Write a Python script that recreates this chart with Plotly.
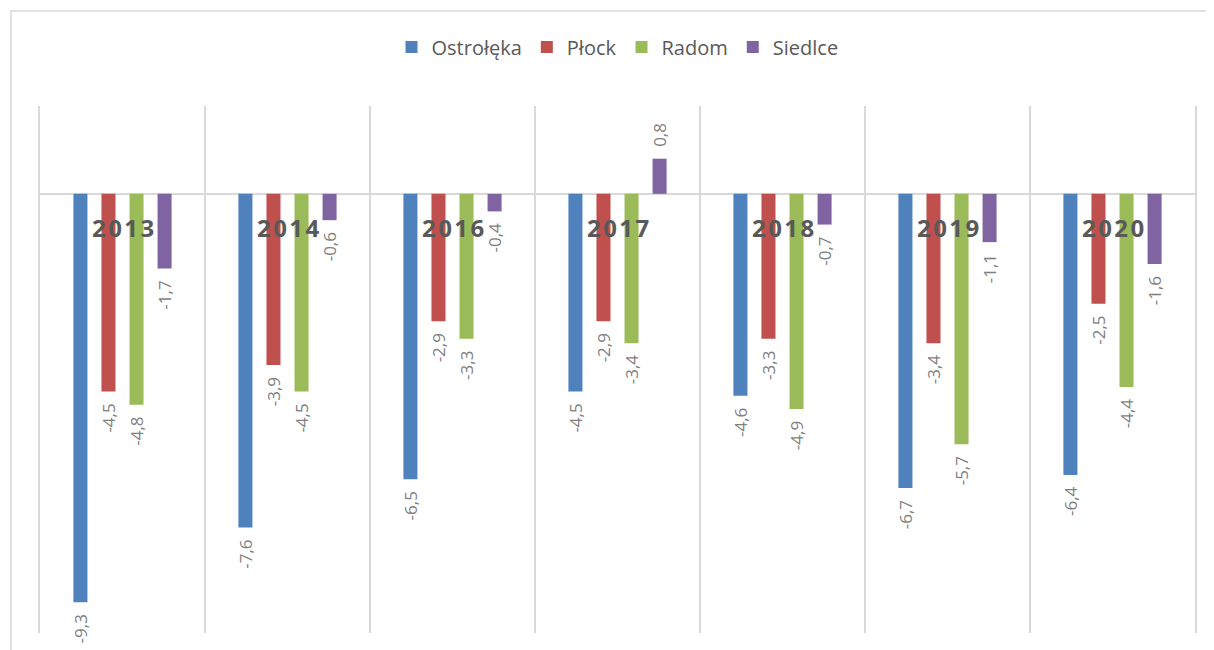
import plotly.graph_objects as go

years = ["2013", "2014", "2016", "2017", "2018", "2019", "2020"]
series_names = ["Ostrołęka", "Płock", "Radom", "Siedlce"]
ostroleka = [-9.3, -7.6, -6.5, -4.5, -4.6, -6.7, -6.4]
plock = [-4.5, -3.9, -2.9, -2.9, -3.3, -3.4, -2.5]
radom = [-4.8, -4.5, -3.3, -3.4, -4.9, -5.7, -4.4]
siedlce = [-1.7, -0.6, -0.4, 0.8, -0.7, -1.1, -1.6]
colors = ["#4F81BD", "#C0504D", "#9BBB59", "#8064A2"]

W, H = 1214, 650
OFF = 8  # page body margin offset
L, R, T, B = 40 - OFF, 19 + OFF, 106 - OFF, 17 + OFF

NB = "\u00a0\u00a0"


def fmt(v):
    s = f"{v:.1f}".replace(".", ",")
    return s + NB if v < 0 else NB + s


fig = go.Figure()
xs = list(range(len(years)))
for name, vals, col in zip(series_names, [ostroleka, plock, radom, siedlce], colors):
    fig.add_trace(go.Bar(
        x=xs, y=vals, name=name, marker=dict(color=col, line=dict(width=0)),
        text=[fmt(v) for v in vals],
        textposition="outside", textangle=-90, constraintext="none",
        cliponaxis=False,
        textfont=dict(family="Open Sans, sans-serif", size=17, color="#7F7F7F"),
        hoverinfo="skip",
    ))

for i, yr in enumerate(years):
    fig.add_annotation(x=i, y=0, xref="x", yref="y", text="<b>" + "\u200a".join(yr) + "</b>",
                       showarrow=False, yshift=-34, yanchor="middle", xanchor="center",
                       font=dict(family="Open Sans, sans-serif", size=24, color="#595959"))

pw = W - L - R
ph = H - T - B
fig.add_shape(type="rect", xref="paper", yref="paper",
              x0=(11 - OFF - L) / pw, x1=1.2, y0=-0.3, y1=(H - B - (11 - OFF)) / ph,
              line=dict(color="#D9D9D9", width=1.5), layer="below")

fig.update_layout(
    width=W, height=H, margin=dict(l=L, r=R, t=T, b=B),
    paper_bgcolor="white", plot_bgcolor="white",
    barmode="group", bargap=0.32, bargroupgap=0.5,
    showlegend=True,
    legend=dict(orientation="h", x=0.5, xanchor="center", y=(H - B - (47 - OFF)) / ph, yanchor="middle",
                font=dict(family="Open Sans, sans-serif", size=20, color="#595959"),
                itemwidth=30, traceorder="normal"),
    xaxis=dict(range=[-0.5, len(years) - 0.5], tickvals=[i - 0.5 for i in range(len(years) + 1)],
               showticklabels=False, showgrid=True, gridcolor="#D9D9D9", gridwidth=1.5,
               zeroline=False, showline=False, ticks=""),
    yaxis=dict(range=[-10, 2], showgrid=False, showticklabels=False, zeroline=True,
               zerolinecolor="#D9D9D9", zerolinewidth=1.5, showline=True, mirror=True,
               linecolor="#D9D9D9", linewidth=1.5, ticks=""),
)

fig.write_html("out.html")
